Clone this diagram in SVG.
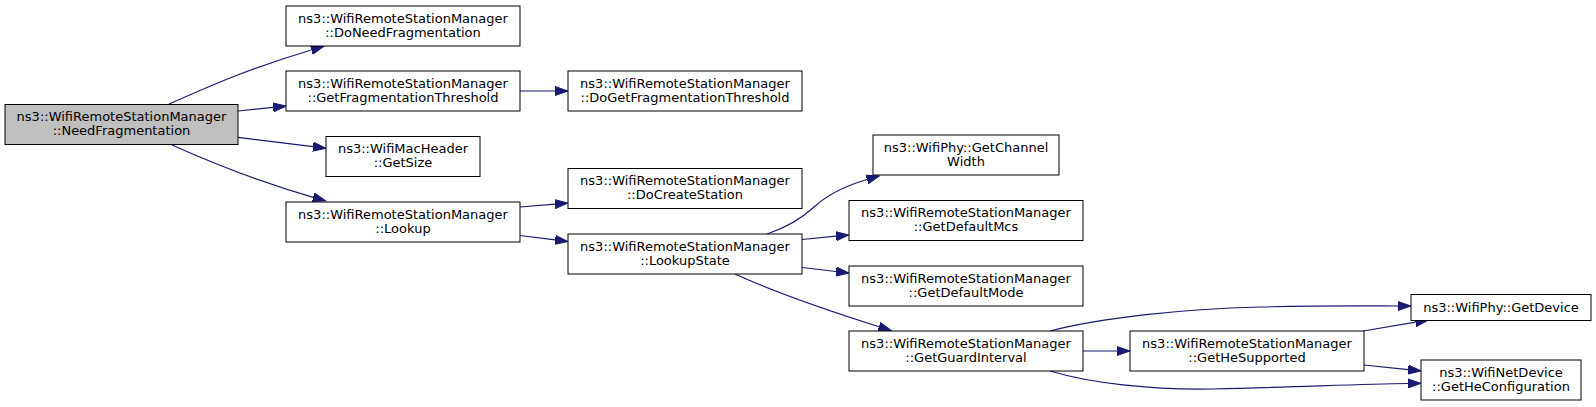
<svg xmlns="http://www.w3.org/2000/svg" width="1596" height="407" viewBox="0 0 1596 407">
<style>
.n rect{fill:#ffffff;stroke:#000000;stroke-width:1}
.n.root rect{fill:#bfbfbf}
.n text{font-family:"DejaVu Sans","Liberation Sans",sans-serif;font-size:13px;fill:#000000;text-anchor:middle}
.e path{fill:none;stroke:#191970;stroke-width:1.2}
</style>
<defs>
<marker id="ah" markerUnits="userSpaceOnUse" markerWidth="14" markerHeight="10" refX="0" refY="5" orient="auto" viewBox="0 0 14 10">
<path d="M0,0.5 L13,5 L0,9.5 z" fill="#191970" stroke="#191970" stroke-width="1"/>
</marker>
</defs>
<rect width="1596" height="407" fill="#ffffff"/>
<g id="connectors" class="e">
<path marker-end="url(#ah)" d="M168.7,104.3 C205,88 250,68 311.4,50"/>
<path marker-end="url(#ah)" d="M238,111 L273.1,107.4"/>
<path marker-end="url(#ah)" d="M238,137.3 L313.1,146.7"/>
<path marker-end="url(#ah)" d="M172,145 C210,162 260,182 313.2,197.3"/>
<path marker-end="url(#ah)" d="M520,91 L555,91"/>
<path marker-end="url(#ah)" d="M520,207 L555,204.1"/>
<path marker-end="url(#ah)" d="M520,235.5 L555.1,239.9"/>
<path marker-end="url(#ah)" d="M767,234 C785,228 800,220 814,207 C828,194 845,186 867,179.5"/>
<path marker-end="url(#ah)" d="M802,239.5 L836.1,236.2"/>
<path marker-end="url(#ah)" d="M802,267.5 L836.1,271.5"/>
<path marker-end="url(#ah)" d="M735,274 C770,290 820,308 879,326.7"/>
<path marker-end="url(#ah)" d="M1050,331 C1100,318 1180,309 1260,307 C1320,305.5 1370,306 1398,306"/>
<path marker-end="url(#ah)" d="M1083,351 L1117,351"/>
<path marker-end="url(#ah)" d="M1050,371 C1090,383 1150,390 1213,389 C1300,387 1360,384 1408,383.5"/>
<path marker-end="url(#ah)" d="M1363.3,331 L1415.5,322.2"/>
<path marker-end="url(#ah)" d="M1364,365 L1408.1,369.6"/>
</g>
<g id="NeedFragmentation" class="n root"><rect x="5" y="104.5" width="233" height="40"/><text x="121.5" y="121">ns3::WifiRemoteStationManager</text><text x="121.5" y="135">::NeedFragmentation</text></g>
<g id="DoNeedFragmentation" class="n"><rect x="286" y="6" width="234" height="40"/><text x="403" y="22.5">ns3::WifiRemoteStationManager</text><text x="403" y="36.5">::DoNeedFragmentation</text></g>
<g id="GetFragmentationThreshold" class="n"><rect x="286" y="71" width="234" height="40"/><text x="403" y="87.5">ns3::WifiRemoteStationManager</text><text x="403" y="101.5">::GetFragmentationThreshold</text></g>
<g id="GetSize" class="n"><rect x="326" y="136.5" width="154" height="40"/><text x="403" y="153">ns3::WifiMacHeader</text><text x="403" y="167">::GetSize</text></g>
<g id="Lookup" class="n"><rect x="286" y="202" width="234" height="40"/><text x="403" y="218.5">ns3::WifiRemoteStationManager</text><text x="403" y="232.5">::Lookup</text></g>
<g id="DoGetFragmentationThreshold" class="n"><rect x="568" y="71" width="234" height="40"/><text x="685" y="87.5">ns3::WifiRemoteStationManager</text><text x="685" y="101.5">::DoGetFragmentationThreshold</text></g>
<g id="DoCreateStation" class="n"><rect x="568" y="168.5" width="234" height="40"/><text x="685" y="185">ns3::WifiRemoteStationManager</text><text x="685" y="199">::DoCreateStation</text></g>
<g id="LookupState" class="n"><rect x="568" y="234" width="234" height="40"/><text x="685" y="250.5">ns3::WifiRemoteStationManager</text><text x="685" y="264.5">::LookupState</text></g>
<g id="GetChannelWidth" class="n"><rect x="873" y="135" width="186" height="40"/><text x="966" y="151.5">ns3::WifiPhy::GetChannel</text><text x="966" y="165.5">Width</text></g>
<g id="GetDefaultMcs" class="n"><rect x="849" y="200.5" width="234" height="40"/><text x="966" y="217">ns3::WifiRemoteStationManager</text><text x="966" y="231">::GetDefaultMcs</text></g>
<g id="GetDefaultMode" class="n"><rect x="849" y="266" width="234" height="40"/><text x="966" y="282.5">ns3::WifiRemoteStationManager</text><text x="966" y="296.5">::GetDefaultMode</text></g>
<g id="GetGuardInterval" class="n"><rect x="849" y="331" width="234" height="40"/><text x="966" y="347.5">ns3::WifiRemoteStationManager</text><text x="966" y="361.5">::GetGuardInterval</text></g>
<g id="GetHeSupported" class="n"><rect x="1130" y="331" width="234" height="40"/><text x="1247" y="347.5">ns3::WifiRemoteStationManager</text><text x="1247" y="361.5">::GetHeSupported</text></g>
<g id="GetDevice" class="n"><rect x="1411" y="294.5" width="180" height="26"/><text x="1501" y="311.5">ns3::WifiPhy::GetDevice</text></g>
<g id="GetHeConfiguration" class="n"><rect x="1421" y="360" width="160" height="40"/><text x="1501" y="376.5">ns3::WifiNetDevice</text><text x="1501" y="390.5">::GetHeConfiguration</text></g>
</svg>
